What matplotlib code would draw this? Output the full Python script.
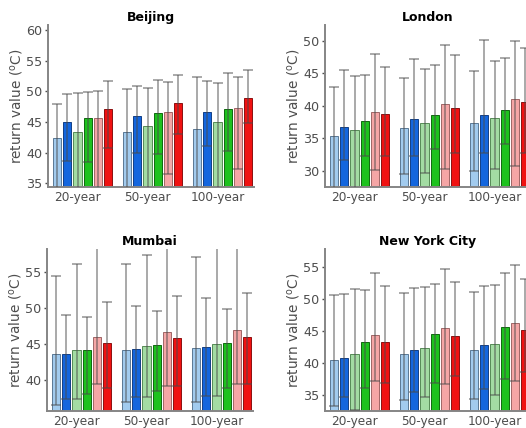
import numpy as np
import matplotlib.pyplot as plt

periods = ['20-year', '50-year', '100-year']
bar_colors = ['#a2cbee', '#1466de', '#a3dca3', '#1ec21e', '#f5a6a6', '#f01212']
edge_colors = ['#5a7894', '#123f86', '#568a56', '#0f6a0f', '#a06666', '#8c1010']

# rows: return period, columns: the six bars of each group
beijing_val = [[42.4, 45.0, 43.4, 45.6, 45.6, 47.1],
               [43.3, 46.0, 44.3, 46.5, 46.6, 48.1],
               [43.9, 46.6, 45.0, 47.1, 47.2, 48.9]]
beijing_hi = [[47.9, 49.6, 49.7, 49.9, 50.1, 51.6],
              [50.4, 50.8, 50.6, 51.8, 51.5, 52.6],
              [52.4, 51.7, 51.3, 52.9, 52.3, 53.4]]
beijing_lo = [[33.0, 38.6, 33.0, 38.4, 33.0, 40.8],
              [33.0, 40.0, 33.0, 39.7, 36.6, 43.0],
              [33.0, 41.1, 33.0, 40.2, 37.3, 44.8]]

london_val = [[35.4, 36.7, 36.3, 37.6, 39.0, 38.7],
              [36.6, 37.9, 37.4, 38.6, 40.3, 39.7],
              [37.4, 38.6, 38.1, 39.3, 41.1, 40.5]]
london_hi = [[42.9, 45.5, 44.5, 44.7, 48.0, 45.9],
             [44.3, 47.1, 45.6, 46.3, 49.3, 47.8],
             [45.3, 50.1, 46.9, 47.3, 50.0, 48.8]]
london_lo = [[26.0, 31.6, 26.0, 32.3, 30.1, 32.3],
             [29.5, 32.3, 29.6, 33.4, 30.3, 32.7],
             [30.0, 32.7, 30.3, 34.1, 30.7, 32.8]]

mumbai_val = [[43.6, 43.6, 44.2, 44.2, 46.0, 45.1],
              [44.2, 44.3, 44.8, 44.9, 46.7, 45.8],
              [44.5, 44.6, 45.0, 45.1, 47.0, 46.0]]
mumbai_hi = [[54.4, 49.0, 56.0, 48.8, 61.0, 50.8],
             [56.0, 50.3, 57.3, 49.5, 61.0, 51.6],
             [57.0, 51.3, 61.0, 49.8, 61.0, 52.1]]
mumbai_lo = [[36.6, 37.4, 37.4, 38.2, 39.5, 38.9],
             [37.0, 37.7, 37.7, 38.6, 39.2, 39.2],
             [37.0, 37.9, 37.9, 39.0, 39.5, 39.5]]

nyc_val = [[40.5, 40.8, 41.4, 43.3, 44.5, 43.3],
           [41.4, 42.1, 42.4, 44.6, 45.5, 44.3],
           [42.1, 42.9, 43.0, 45.7, 46.3, 45.2]]
nyc_hi = [[50.6, 50.8, 51.6, 51.4, 54.1, 52.1],
          [51.0, 51.7, 52.0, 52.4, 54.7, 52.7],
          [51.2, 52.1, 52.2, 54.1, 55.3, 53.1]]
nyc_lo = [[33.3, 34.8, 32.7, 36.1, 37.3, 36.9],
          [34.2, 35.5, 34.7, 36.9, 36.8, 38.0],
          [34.4, 36.0, 35.0, 37.5, 37.2, 38.7]]

cities = [
    ('Beijing', beijing_val, beijing_hi, beijing_lo, (34.4, 60.8), [35, 40, 45, 50, 55, 60]),
    ('London', london_val, london_hi, london_lo, (27.5, 52.4), [30, 35, 40, 45, 50]),
    ('Mumbai', mumbai_val, mumbai_hi, mumbai_lo, (35.8, 58.1), [40, 45, 50, 55]),
    ('New York City', nyc_val, nyc_hi, nyc_lo, (32.56, 57.86), [35, 40, 45, 50, 55]),
]

W, H = 526, 428
# axes boxes in pixels: left, top
boxes = [(48, 25), (325, 25), (47, 249), (325, 249)]
ax_w, ax_h = 206, 162

fig = plt.figure(figsize=(W / 100, H / 100), dpi=100)

pitch = 0.145
width = 0.117
# bars sit slightly right of the tick position of each group
offsets = (np.arange(6) - 2.5) * pitch + 0.071
grey_txt = '#4d4d4d'

for (name, val, hi, lo, ylim, yticks), (lx, ty) in zip(cities, boxes):
    ax = fig.add_axes([lx / W, 1 - (ty + ax_h) / H, ax_w / W, ax_h / H])
    val, hi, lo = np.array(val), np.array(hi), np.array(lo)
    for g in range(3):
        for i in range(6):
            x = g + offsets[i]
            ax.bar(x, val[g, i], width, color=bar_colors[i],
                   edgecolor=edge_colors[i], linewidth=0.7, zorder=2)
            ax.errorbar(x, val[g, i],
                        yerr=[[val[g, i] - lo[g, i]], [hi[g, i] - val[g, i]]],
                        fmt='none', ecolor='#4a4a4a', elinewidth=1.1,
                        capsize=3.3, capthick=1.1, alpha=0.6, zorder=3)
    ax.set_xlim(-0.423, -0.423 + ax_w / 70)
    ax.set_ylim(*ylim)
    ax.set_yticks(yticks)
    ax.set_xticks(range(3))
    ax.set_xticklabels(periods)
    ax.tick_params(axis='x', length=0, pad=3, labelsize=8.7, colors=grey_txt)
    ax.tick_params(axis='y', length=2.5, width=1, pad=1.5, labelsize=9.2,
                   colors=grey_txt)
    for s in ['top', 'right']:
        ax.spines[s].set_visible(False)
    for s in ['left', 'bottom']:
        ax.spines[s].set_color('#858585')
        ax.spines[s].set_linewidth(1.4)
    ax.set_ylabel('return value ($^{\\mathrm{o}}$C)', fontsize=9.8,
                  color=grey_txt, labelpad=0.5)
    ax.set_title(name, fontsize=9, fontweight='bold', pad=3)

fig.savefig('out.png', dpi=100)
